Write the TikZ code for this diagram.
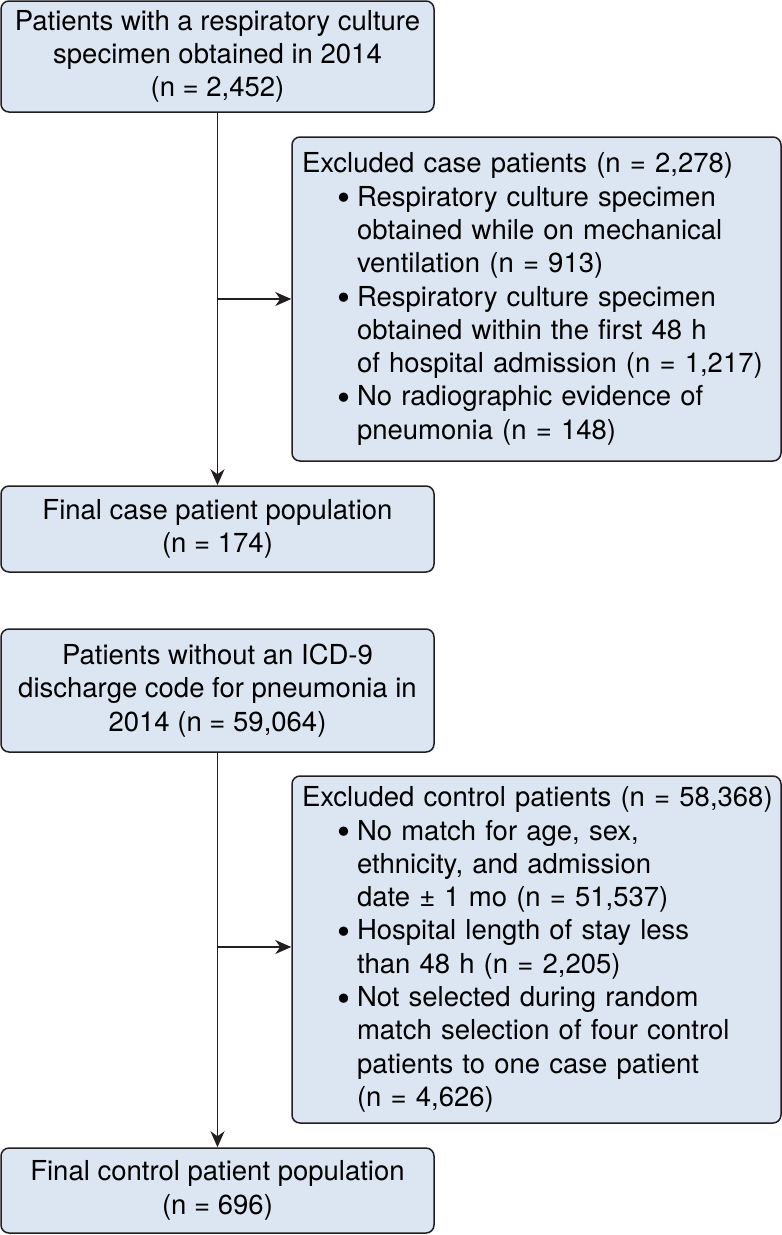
\documentclass[tikz,border=0pt]{standalone}
\usepackage{fontspec}
\usepackage{graphicx}
\setmainfont{TeX Gyre Heros}
\usetikzlibrary{arrows.meta}
\definecolor{boxfill}{HTML}{DCE6F2}
\definecolor{boxline}{HTML}{231F20}
\newcommand\fcbul{\hspace*{35pt}\makebox[20pt][l]{\raisebox{-0.32ex}{\scalebox{1.35}{\textbullet}}}}
\newcommand\fccont{\hspace*{55pt}}
\begin{document}
\begin{tikzpicture}[x=1pt,y=-1pt,
 box/.style={draw=boxline, fill=boxfill, line width=1.5pt, rounded corners=8pt,
   inner sep=0pt, align=center, font=\fontsize{27.5}{33.3}\selectfont, text=black},
 lbox/.style={box, align=left, inner xsep=10pt},
 arr/.style={draw=boxline, line width=1.4pt, -{Stealth[length=16pt,width=14pt,inset=5pt]}}]
\useasboundingbox (0,0) rectangle (782,1235);
\node[box, minimum width=433pt, minimum height=111pt] (b1) at (217.5,56.5)
 {Patients with a respiratory culture\\specimen obtained in 2014\\(n = 2,452)};
\node[lbox, text width=469pt, minimum height=324pt] (b2) at (536.5,299)
 {\mbox{Excluded case patients (n = 2,278)}\\
 \fcbul Respiratory culture specimen\\
 \fccont obtained while on mechanical\\
 \fccont ventilation (n = 913)\\
 \fcbul Respiratory culture specimen\\
 \fccont obtained within the first 48 h\\
 \fccont of hospital admission (n = 1,217)\\
 \fcbul No radiographic evidence of\\
 \fccont pneumonia (n = 148)};
\node[box, minimum width=433pt, minimum height=86pt] (b3) at (217.5,529)
 {Final case patient population\\(n = 174)};
\node[box, minimum width=433pt, minimum height=123pt] (b4) at (217.5,690.5)
 {Patients without an ICD-9\\discharge code for pneumonia in\\2014 (n = 59,064)};
\node[lbox, text width=469pt, minimum height=347pt] (b5) at (536.5,949.5)
 {\mbox{Excluded control patients (n = 58,368)}\\
 \fcbul No match for age, sex,\\
 \fccont ethnicity, and admission\\
 \fccont date ± 1 mo (n = 51,537)\\
 \fcbul Hospital length of stay less\\
 \fccont than 48 h (n = 2,205)\\
 \fcbul Not selected during random\\
 \fccont match selection of four control\\
 \fccont patients to one case patient\\
 \fccont (n = 4,626)};
\node[box, minimum width=433pt, minimum height=85pt] (b6) at (217.5,1190.5)
 {Final control patient population\\(n = 696)};
\coordinate (j1) at (217.5,299);
\coordinate (j2) at (217.5,947);
\draw[arr] (b1.south) -- (b3.north);
\draw[arr] (j1) -- (j1 -| b2.west);
\draw[arr] (b4.south) -- (b6.north);
\draw[arr] (j2) -- (j2 -| b5.west);
\end{tikzpicture}
\end{document}
